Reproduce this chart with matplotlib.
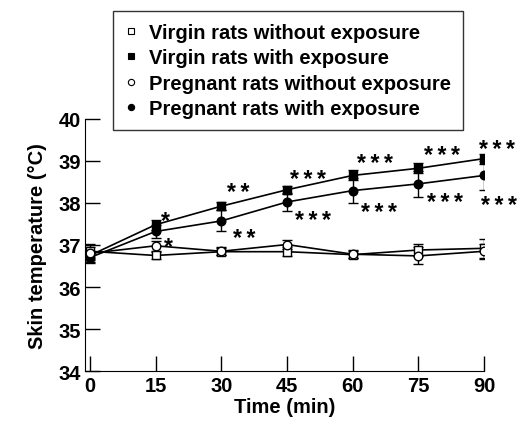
import matplotlib
matplotlib.use("Agg")
import matplotlib.pyplot as plt
import numpy as np

plt.rcParams['font.family'] = ['Liberation Sans', 'DejaVu Sans']
plt.rcParams['font.weight'] = 'bold'

# データ
times = [0, 15, 30, 45, 60, 75, 90]
labels = ["Virgin rats without exposure", "Virgin rats with exposure",
          "Pregnant rats without exposure", "Pregnant rats with exposure"]

virgin_ctrl = [36.85, 36.75, 36.84, 36.84, 36.77, 36.88, 36.92]
virgin_ctrl_err = [0.10, 0.08, 0.08, 0.10, 0.08, 0.15, 0.22]
virgin_exp = [36.75, 37.48, 37.92, 38.31, 38.65, 38.82, 39.05]
virgin_exp_err = [0.10, 0.12, 0.10, 0.10, 0.12, 0.12, 0.12]
preg_ctrl = [36.80, 36.98, 36.85, 37.01, 36.78, 36.74, 36.85]
preg_ctrl_err = [0.22, 0.12, 0.10, 0.10, 0.10, 0.20, 0.18]
preg_exp = [36.70, 37.32, 37.57, 38.02, 38.29, 38.45, 38.65]
preg_exp_err = [0.10, 0.15, 0.25, 0.22, 0.30, 0.30, 0.35]

# 有意差の記号 (15分以降)
sig_virgin = ["*", "**", "***", "***", "***", "***"]
sig_preg = ["*", "**", "***", "***", "***", "***"]

fig = plt.figure(figsize=(5.28, 4.27), dpi=100)
ax = fig.add_axes([0.161, 0.128, 0.756, 0.592])

styles = [("s", "white"), ("s", "black"), ("o", "white"), ("o", "black")]
data = [(virgin_ctrl, virgin_ctrl_err), (virgin_exp, virgin_exp_err),
        (preg_ctrl, preg_ctrl_err), (preg_exp, preg_exp_err)]

# 塗りつぶしを先に、白抜きを上に描く
for k in [1, 3, 0, 2]:
    vals, err = data[k]
    m, fc = styles[k]
    ax.errorbar(times, vals, yerr=err, color="black", lw=1.2, elinewidth=1.0,
                capsize=3.6, capthick=1.0, marker=m, markersize=6.2,
                markerfacecolor=fc, markeredgecolor="black", markeredgewidth=1.0)

handles = []
for m, fc in styles:
    h, = ax.plot([], [], linestyle="none", marker=m, markersize=4.5,
                 markerfacecolor=fc, markeredgecolor="black", markeredgewidth=0.8)
    handles.append(h)

# 星印の位置 (ピクセル)
up_off = [(10, 11), (17, 20), (21, 17), (22, 19), (23, 20), (13, 16)]
low_off = [(13, -8), (23, -11), (26, -12), (26, -15), (26, -12), (15, -23)]
star_fs = 16.5
for sig, vals, offs in [(sig_virgin, virgin_exp, up_off), (sig_preg, preg_exp, low_off)]:
    for i, s in enumerate(sig):
        ax.annotate("\u2009".join(s), xy=(times[i + 1], vals[i + 1]),
                    xytext=(offs[i][0] * 0.72, offs[i][1] * 0.72 - star_fs * 0.58),
                    textcoords="offset points", ha="center", va="baseline",
                    fontsize=star_fs, fontweight="bold")

ax.set_xlim(-1.1, 90)
ax.set_ylim(34, 40)
ax.set_xticks(times)
ax.set_yticks(np.arange(34, 41, 1))
ax.spines["top"].set_visible(False)
ax.spines["right"].set_visible(False)
ax.tick_params(direction="in", length=10.8, width=1, labelsize=14.5, pad=3)
ax.set_xlabel("Time (min)", fontsize=14.5, fontweight="bold", labelpad=2)
ax.set_ylabel("Skin temperature (\u00b0C)", fontsize=14.5, fontweight="bold", labelpad=8)

leg = fig.legend(handles, labels, loc="upper left", bbox_to_anchor=(0.214, 0.972),
                 borderaxespad=0, fontsize=14.5, frameon=True, fancybox=False,
                 handlelength=0.6, handletextpad=0.6, labelspacing=0.32,
                 borderpad=0.6)
leg.get_frame().set_edgecolor("black")
leg.get_frame().set_linewidth(1.0)

fig.savefig("out.png", dpi=100)
